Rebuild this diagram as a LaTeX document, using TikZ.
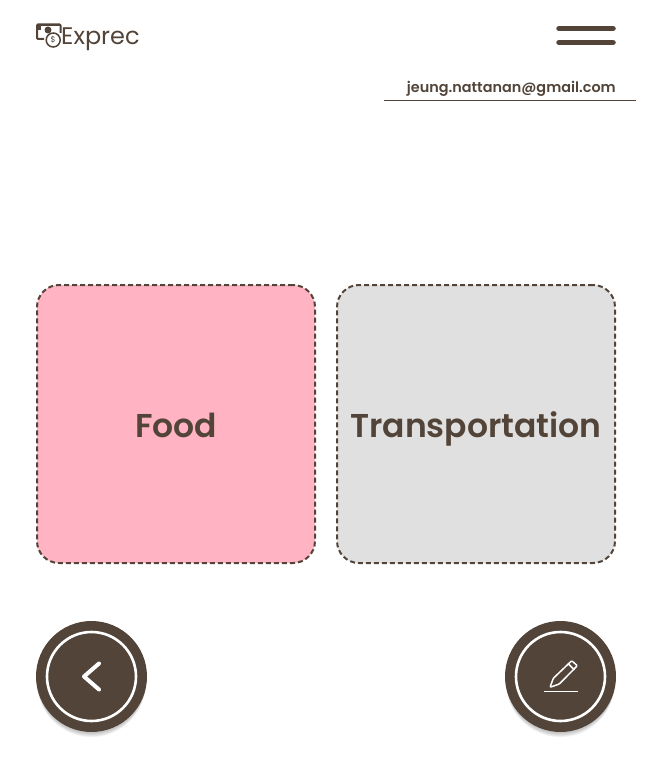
\documentclass[tikz,border=0pt]{standalone}
\usepackage{fontspec}
\setmainfont{Poppins}[BoldFont={Poppins SemiBold}]
\usepackage{tikz}
\usetikzlibrary{positioning, calc}
\definecolor{cocoa}{HTML}{524439}
\definecolor{foodpink}{HTML}{FFB3C3}
\definecolor{transgray}{HTML}{E0E0E0}

\begin{document}
\begin{tikzpicture}[
  x=1pt, y=-1pt,
  card/.style={draw=cocoa, line width=2pt, dash pattern=on 5pt off 3pt, rounded corners=22pt, minimum size=278pt, inner sep=0pt, align=center, text height=33pt, text depth=7pt, font=\fontsize{33}{40}\selectfont\bfseries, text=cocoa},
  roundbtn/.style={circle, fill=cocoa, minimum size=111pt, inner sep=0pt},
  ring/.style={draw=white, line width=2.6pt},
  glyph/.style={draw=white, line width=1.5pt, line cap=round, line join=round, rounded corners=1pt},
  bar/.style={draw=cocoa, line width=5.5pt, line cap=round},
  node distance=20pt
]
\useasboundingbox (0,0) rectangle (650,762);

% header
\node[anchor=west, inner sep=0pt, text=cocoa, font=\fontsize{24}{26}\selectfont] (brand) at (61,39.5) {Exprec};
\coordinate (barA) at (559,28.5);
\coordinate (barB) at (613,28.5);
\coordinate (barC) at (559,42.5);
\coordinate (barD) at (613,42.5);
\draw[bar] (barA) -- (barB);
\draw[bar] (barC) -- (barD);
\node[anchor=east, inner sep=0pt, text=cocoa, font=\fontsize{14.4}{18}\selectfont\bfseries] (mail) at (616,89) {jeung.nattanan@gmail.com};
\coordinate (ruleL) at (384,100.5);
\coordinate (ruleR) at (636,100.5);
\draw[cocoa, line width=1pt] (ruleL) -- (ruleR);

% logo
\draw[cocoa, line width=2pt, rounded corners=1pt] (44,39) -- (37,39) -- (37,24.5) -- (60.5,24.5) -- (60.5,33);
\fill[cocoa] (37,24) rectangle (61,26.5);
\fill[cocoa] (37,24) rectangle (41,30);
\fill[cocoa] (48,30) circle (3.5pt);
\node[circle, draw=cocoa, fill=white, line width=1.5pt, minimum size=14pt, inner sep=0pt, font=\fontsize{8}{8}\selectfont, text=cocoa] (coin) at (53.2,40) {\$};

% cards
\node[card, fill=foodpink] (food) at (176,424) {Food};
\node[card, fill=transgray, right=of food] (trans) {Transportation};

% buttons
\foreach \cx in {91.5,560.5} {
  \foreach \k in {1,...,8} {
    \fill[black, opacity=0.03] (\cx,677+\k*0.8) circle ({55.5-\k*0.2});
  }
}
\node[roundbtn] (back) at (91.5,676.5) {};
\node[roundbtn] (edit) at (560.5,676.5) {};
\draw[ring] (back) circle (44.5);
\draw[ring] (edit) circle (44.5);

% chevron
\draw[white, line width=4pt, line cap=round, line join=round] (99,663.5) -- (84,676.5) -- (99,689.5);

% pencil
\begin{scope}[shift={(560.5,676.5)}]
  \draw[glyph] (-10.5,10.8) -- (-7.2,1.8) -- (11.2,-15.8) -- (16.8,-10.8) -- (-1.2,7.5) -- cycle;
  \draw[glyph] (8,-12.5) -- (13.5,-7);
  \draw[white, line width=1.5pt] (-16.5,15.2) -- (17,15.2);
\end{scope}
\end{tikzpicture}
\end{document}
